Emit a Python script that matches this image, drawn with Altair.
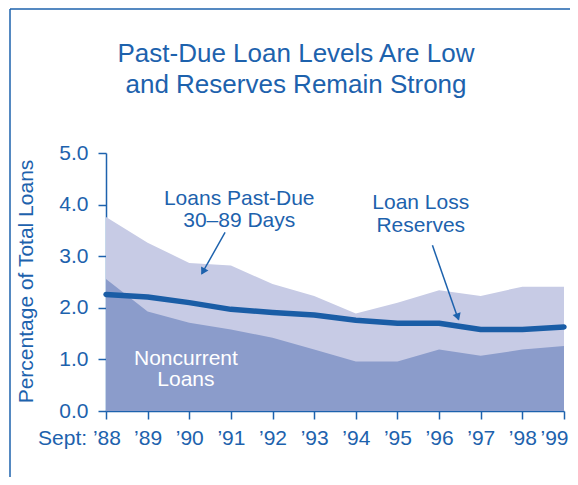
import altair as alt
import pandas as pd

years = list(range(1988, 2000))
year_labels = ["Sept: \u201988", "\u201989", "\u201990", "\u201991", "\u201992", "\u201993",
               "\u201994", "\u201995", "\u201996", "\u201997", "\u201998", "\u201999"]
noncurrent = [2.56, 1.93, 1.71, 1.58, 1.42, 1.19, 0.96, 0.96, 1.19, 1.07, 1.19, 1.26]
total_past_due = [3.76, 3.26, 2.87, 2.82, 2.46, 2.23, 1.89, 2.10, 2.34, 2.23, 2.41, 2.41]
reserves = [2.26, 2.21, 2.10, 1.97, 1.91, 1.86, 1.76, 1.70, 1.70, 1.58, 1.58, 1.63]

title_lines = ["Past-Due Loan Levels Are Low", "and Reserves Remain Strong"]

ann_text = ["Loans Past-Due", "30\u201389 Days", "Loan Loss", "Reserves", "Noncurrent", "Loans"]
ann_x = [1991.2, 1991.2, 1995.56, 1995.56, 1989.92, 1989.92]
ann_y = [4.0, 3.56, 3.92, 3.47, 0.90, 0.49]
ann_color = ["#1d62ad", "#1d62ad", "#1d62ad", "#1d62ad", "#ffffff", "#ffffff"]

arrow_x = [1990.86, 1995.84]
arrow_y = [3.46, 3.21]
arrow_x2 = [1990.30, 1996.46]
arrow_y2 = [2.66, 1.78]
head_x = [1990.33, 1996.45]
head_y = [2.70, 1.82]
head_angle = [29, 340.6]

BLUE = "#1d62ad"
LINE = "#1a5da6"

df = pd.DataFrame({"year": years, "noncurrent": noncurrent,
                   "total": total_past_due, "reserves": reserves})
ann = pd.DataFrame({"text": ann_text, "x": ann_x, "y": ann_y, "c": ann_color})
arr = pd.DataFrame({"x": arrow_x, "y": arrow_y, "x2": arrow_x2, "y2": arrow_y2})
heads = pd.DataFrame({"x": head_x, "y": head_y, "a": head_angle})
ttl = pd.DataFrame({"t": title_lines, "row": [0, 1]})
one = pd.DataFrame({"k": [0]})

label_expr = "[" + ",".join("'" + l + "'" for l in year_labels) + "][datum.value - 1988]"

xscale = alt.Scale(domain=[1988, 1999], nice=False, zero=False)
yscale = alt.Scale(domain=[0, 5], nice=False)

x_axis = alt.Axis(values=years, labelExpr=label_expr, title=None, grid=False,
                  domainColor=BLUE, domainWidth=1.5, tickColor=BLUE, tickWidth=1.5,
                  tickSize=8, labelColor=BLUE, labelFontSize=21, labelPadding=8,
                  labelFont="Liberation Sans", labelFlush=False, labelOverlap=False,
                  labelOffset={"condition": [{"test": "datum.value == 1988", "value": -27},
                                             {"test": "datum.value == 1999", "value": -10}],
                               "value": 0})
y_axis = alt.Axis(values=[0, 1, 2, 3, 4, 5], format=".1f", title="Percentage of Total Loans",
                  grid=False, domainColor=BLUE, domainWidth=1.5, tickColor=BLUE, tickWidth=1.5,
                  tickSize=8, labelColor=BLUE, labelFontSize=21, labelPadding=10,
                  labelFont="Liberation Sans", titleFont="Liberation Sans", titleFontSize=21,
                  titleFontWeight="normal", titleColor=BLUE, titleX=-80, titleY=128,
                  titleBaseline="middle", titleAngle=270)

base = alt.Chart(df)
light = base.mark_area(color="#c7cbe5").encode(
    x=alt.X("year:Q", scale=xscale, axis=x_axis),
    y=alt.Y("total:Q", scale=yscale, axis=y_axis))
dark = base.mark_area(color="#8b9ccb").encode(x="year:Q", y="noncurrent:Q")
line = base.mark_line(color=LINE, strokeWidth=5.5, strokeCap="round", strokeJoin="round").encode(
    x="year:Q", y="reserves:Q")

texts = alt.Chart(ann).mark_text(fontSize=21, font="Liberation Sans", baseline="alphabetic",
                                 align="center").encode(
    x="x:Q", y="y:Q", text="text:N", color=alt.Color("c:N", scale=None))
arrows = alt.Chart(arr).mark_rule(color=BLUE, strokeWidth=1.5).encode(
    x="x:Q", y="y:Q", x2="x2:Q", y2="y2:Q")
arrowheads = alt.Chart(heads).mark_point(shape="triangle-down", filled=True, color=BLUE,
                                         size=70, opacity=1).encode(
    x="x:Q", y="y:Q", angle=alt.Angle("a:Q", scale=None))

title_text = alt.Chart(ttl).transform_calculate(py="-90.7 + datum.row * 30.4").mark_text(
    fontSize=26, font="Liberation Sans", color=BLUE, align="center",
    baseline="alphabetic", clip=False).encode(
    x=alt.value(190), y=alt.Y("py:Q", scale=None), text="t:N")

frame_top = alt.Chart(one).mark_rule(color=BLUE, strokeWidth=1.5, clip=False).encode(
    x=alt.value(-96), x2=alt.value(470), y=alt.value(-144))
frame_left = alt.Chart(one).mark_rule(color=BLUE, strokeWidth=1.5, clip=False).encode(
    x=alt.value(-96), y=alt.value(-144), y2=alt.value(324))

chart = alt.layer(light, dark, line, arrows, arrowheads, texts, title_text,
                  frame_top, frame_left).properties(
    width=458, height=258,
    padding={"left": 98, "top": 145, "right": 6, "bottom": 66},
    autosize=alt.AutoSizeParams(type="none"),
    background="white",
).configure_view(strokeWidth=0, stroke="transparent")

chart.save("out.html", embed_options={"renderer": "svg", "actions": False})
